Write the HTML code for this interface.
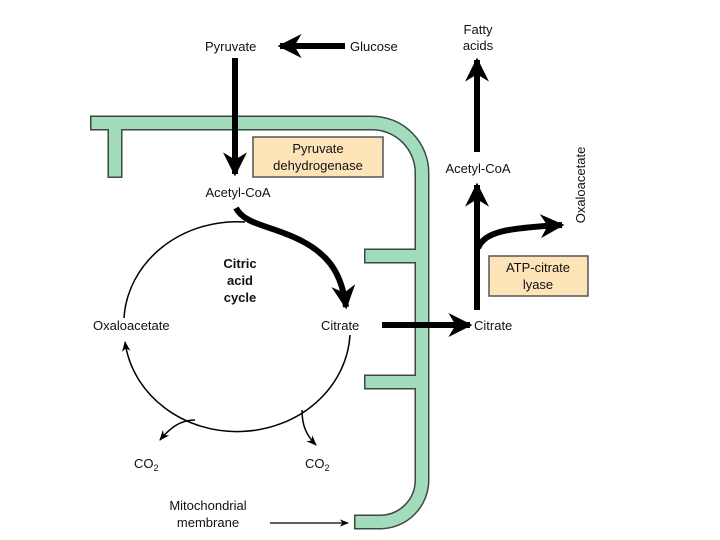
<!DOCTYPE html>
<html><head><meta charset="utf-8"><style>
html,body{margin:0;padding:0;background:#fff;}
svg{display:block;}
text{font-family:"Liberation Sans",sans-serif;font-size:13px;fill:#111;}
</style></head><body>
<svg width="720" height="540" viewBox="0 0 720 540" xmlns="http://www.w3.org/2000/svg">
<defs>
<marker id="ah" viewBox="0 0 10 10" refX="9" refY="5" markerWidth="4" markerHeight="4" orient="auto"><path d="M0,0 L10,5 L0,10 L3,5 z" fill="#000"/></marker>
<marker id="as" viewBox="0 0 10 10" refX="9" refY="5" markerWidth="7" markerHeight="7" orient="auto"><path d="M0,1 L10,5 L0,9 L3,5 z" fill="#000"/></marker>
</defs>
<!-- membrane -->
<g fill="none" stroke="#3a4a40" stroke-width="15">
<path d="M90,123 H372 A50,50 0 0 1 422,173 V480 A42,42 0 0 1 380,522 H354"/>
<path d="M115,123 V178"/>
<path d="M364,256 H422 M364,382 H422"/>
</g>
<g fill="none" stroke="#a3dcbc" stroke-width="12">
<path d="M91.5,123 H372 A50,50 0 0 1 422,173 V480 A42,42 0 0 1 380,522 H355.5"/>
<path d="M115,123 V176.5"/>
<path d="M365.5,256 H422 M365.5,382 H422"/>
</g>
<!-- top -->
<text x="205" y="51">Pyruvate</text>
<text x="350" y="51">Glucose</text>
<line x1="345" y1="46" x2="280" y2="46" stroke="#000" stroke-width="6" marker-end="url(#ah)"/>
<line x1="235" y1="58" x2="235" y2="174" stroke="#000" stroke-width="6" marker-end="url(#ah)"/>
<rect x="253" y="137" width="130" height="40" fill="#fde3b8" stroke="#555" stroke-width="1.5"/>
<text x="318" y="153" text-anchor="middle">Pyruvate</text>
<text x="318" y="170" text-anchor="middle">dehydrogenase</text>
<text x="238" y="197" text-anchor="middle">Acetyl-CoA</text>
<!-- cycle -->
<path d="M245,222 A113,102 0 0 0 124,318" fill="none" stroke="#000" stroke-width="1.5"/>
<path d="M350,335 A113,102 0 0 1 125,342" fill="none" stroke="#000" stroke-width="1.5" marker-end="url(#as)"/>
<path d="M236,208 C245,225 270,225 300,240 C330,255 342,275 346,307" fill="none" stroke="#000" stroke-width="6" marker-end="url(#ah)"/>
<text x="240" y="268" text-anchor="middle" font-weight="bold">Citric</text>
<text x="240" y="285" text-anchor="middle" font-weight="bold">acid</text>
<text x="240" y="302" text-anchor="middle" font-weight="bold">cycle</text>
<text x="93" y="330">Oxaloacetate</text>
<text x="321" y="330">Citrate</text>
<path d="M195,420 C180,420 170,428 160,440" fill="none" stroke="#000" stroke-width="1.5" marker-end="url(#as)"/>
<path d="M302,410 C302,425 306,435 316,445" fill="none" stroke="#000" stroke-width="1.5" marker-end="url(#as)"/>
<text x="134" y="468">CO<tspan font-size="9" dy="3">2</tspan></text>
<text x="305" y="468">CO<tspan font-size="9" dy="3">2</tspan></text>
<text x="208" y="510" text-anchor="middle">Mitochondrial</text>
<text x="208" y="527" text-anchor="middle">membrane</text>
<line x1="270" y1="523" x2="348" y2="523" stroke="#000" stroke-width="1.3" marker-end="url(#as)"/>
<!-- right -->
<line x1="382" y1="325" x2="470" y2="325" stroke="#000" stroke-width="6" marker-end="url(#ah)"/>
<text x="474" y="330">Citrate</text>
<line x1="477" y1="310" x2="477" y2="185" stroke="#000" stroke-width="6" marker-end="url(#ah)"/>
<path d="M478,248 C485,232 505,228 562,225" fill="none" stroke="#000" stroke-width="6" marker-end="url(#ah)"/>
<rect x="489" y="256" width="99" height="40" fill="#fde3b8" stroke="#555" stroke-width="1.5"/>
<text x="538" y="272" text-anchor="middle">ATP-citrate</text>
<text x="538" y="289" text-anchor="middle">lyase</text>
<text x="478" y="173" text-anchor="middle">Acetyl-CoA</text>
<line x1="477" y1="152" x2="477" y2="60" stroke="#000" stroke-width="6" marker-end="url(#ah)"/>
<text x="478" y="34" text-anchor="middle">Fatty</text>
<text x="478" y="50" text-anchor="middle">acids</text>
<text transform="translate(585,185) rotate(-90)" text-anchor="middle">Oxaloacetate</text>
</svg>
</body></html>
